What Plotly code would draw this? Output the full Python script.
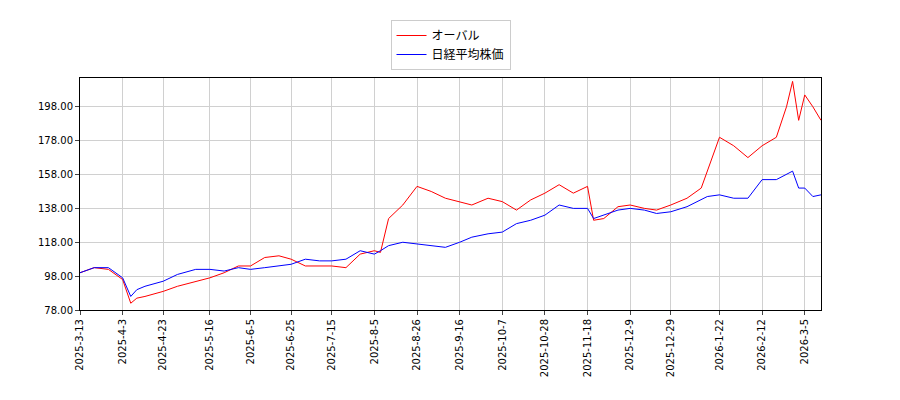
import pandas as pd
import plotly.graph_objects as go

dates = ["2025-03-13","2025-03-20","2025-03-27","2025-04-03","2025-04-07","2025-04-10","2025-04-14",
         "2025-04-23","2025-04-30","2025-05-09","2025-05-16","2025-05-23","2025-05-30","2025-06-05",
         "2025-06-12","2025-06-19","2025-06-25","2025-07-02","2025-07-09","2025-07-15","2025-07-22",
         "2025-07-29","2025-08-05","2025-08-08","2025-08-12","2025-08-19","2025-08-26","2025-09-02",
         "2025-09-09","2025-09-16","2025-09-22","2025-09-30","2025-10-07","2025-10-14","2025-10-21",
         "2025-10-28","2025-11-04","2025-11-11","2025-11-18","2025-11-21","2025-11-26","2025-12-03",
         "2025-12-09","2025-12-16","2025-12-22","2025-12-29","2026-01-06","2026-01-13","2026-01-16",
         "2026-01-22","2026-01-29","2026-02-05","2026-02-12","2026-02-19","2026-02-24","2026-02-27",
         "2026-03-02","2026-03-05","2026-03-09","2026-03-13"]
oval = [100,103,102,96,82,85,86,89,92,95,97,100,104,104,109,110,108,104,104,104,103,111,113,112,
        132,140,151,148,144,142,140,144,142,137,143,147,152,147,151,131,132,139,140,138,137,140,
        144,150,160,180,175,168,175,180,198,213,190,205,198,190]
nikkei = [100,103,103,97,86,90,92,95,99,102,102,101,103,102,103,104,105,108,107,107,108,113,111,113,
          116,118,117,116,115,118,121,123,124,129,131,134,140,138,138,132,134,137,138,137,135,136,
          139,143,145,146,144,144,155,155,158,160,150,150,145,146]

tick_dates = ["2025-03-13","2025-04-03","2025-04-23","2025-05-16","2025-06-05","2025-06-25","2025-07-15",
              "2025-08-05","2025-08-26","2025-09-16","2025-10-07","2025-10-28","2025-11-18","2025-12-09",
              "2025-12-29","2026-01-22","2026-02-12","2026-03-05"]
tick_text = [f"{d.year}-{d.month}-{d.day}" for d in pd.to_datetime(tick_dates)]
y_ticks = [78, 98, 118, 138, 158, 178, 198]

x = pd.to_datetime(dates)
fig = go.Figure()
fig.add_trace(go.Scatter(x=x, y=oval, mode="lines", name="オーバル", line=dict(color="red", width=1)))
fig.add_trace(go.Scatter(x=x, y=nikkei, mode="lines", name="日経平均株価", line=dict(color="blue", width=1)))

fig.update_layout(
    width=900, height=400, plot_bgcolor="white", paper_bgcolor="white",
    margin=dict(l=72, r=87, t=62, b=98),
    font=dict(family="DejaVu Sans, Noto Sans CJK JP", size=10, color="black"),
    legend=dict(x=0.5, y=1.25, xanchor="center", yanchor="top", bordercolor="#ccc", borderwidth=1,
                font=dict(size=12)),
)
axis = dict(showline=True, linecolor="black", mirror=True, showgrid=True, gridcolor="#d0d0d0",
            ticks="outside", ticklen=4, zeroline=False)
fig.update_xaxes(tickvals=pd.to_datetime(tick_dates), ticktext=tick_text, tickangle=-90,
                 range=[x[0], x[-1]], **axis)
fig.update_yaxes(tickvals=y_ticks, ticktext=[f"{v:.2f}" for v in y_ticks], range=[78, 215], **axis)
fig.write_html("out.html")
